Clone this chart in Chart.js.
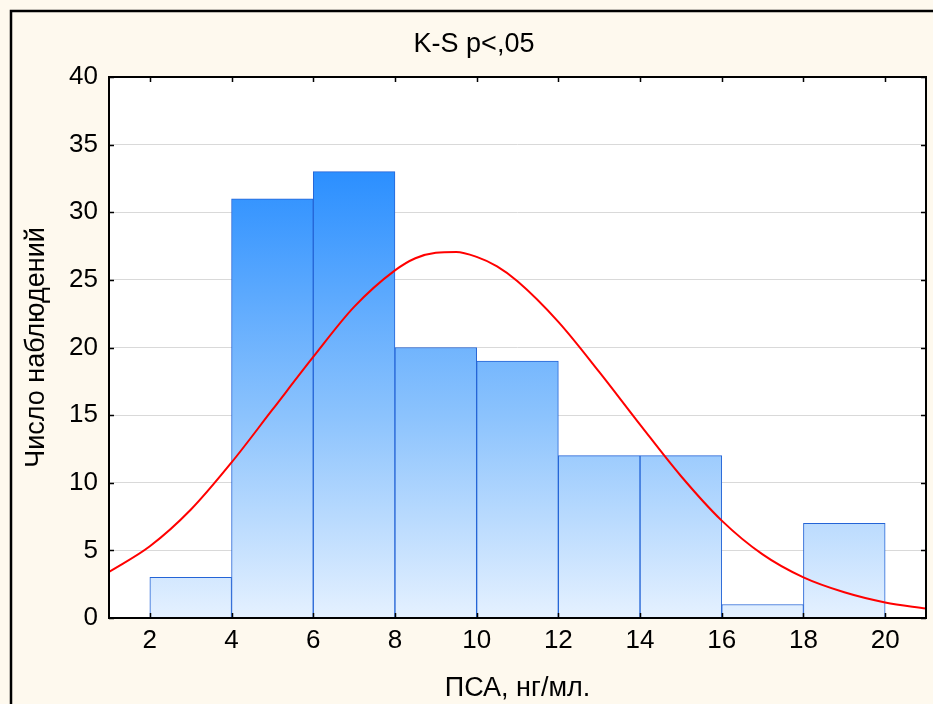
<!DOCTYPE html>
<html>
<head>
<meta charset="utf-8">
<script src="https://cdn.jsdelivr.net/npm/chart.js@4/dist/chart.umd.min.js"></script>
<style>
  html, body { margin: 0; padding: 0; background: #fef9ee; }
  #wrap { width: 933px; height: 704px; }
  canvas { display: block; }
</style>
</head>
<body>
<div id="wrap"><canvas id="chart" width="933" height="704"></canvas></div>
<script>
// Histogram bins (centre of each 2-unit bin) and observed counts
const binCenters = [3, 5, 7, 9, 11, 13, 15, 17, 19];
const binCounts  = [3, 31, 33, 20, 19, 12, 12, 1, 7];

// Expected-normal curve, sampled at whole units (half units around the crest)
const curveX = [1, 2, 3, 4, 5, 6, 7, 8, 8.5, 9, 9.5, 10, 10.5, 11, 12, 13, 14, 15, 16, 17, 18, 19, 20, 21];
const curveY = [3.4, 5.3, 8.0, 11.5, 15.4, 19.3, 23.0, 25.7, 26.6, 27.0, 27.06, 26.7, 26.0, 24.9, 21.9, 18.2, 14.3, 10.5, 7.2, 4.7, 3.0, 1.9, 1.15, 0.7];

// Axis ticks
const xTickValues = [2, 4, 6, 8, 10, 12, 14, 16, 18, 20];
const yTickValues = [0, 5, 10, 15, 20, 25, 30, 35, 40];

const chartTitle = 'K-S p<,05';
const xAxisTitle = 'ПСА, нг/мл.';
const yAxisTitle = 'Число наблюдений';

const FONT = '"Liberation Sans", Arial, sans-serif';
const TICK_SIZE = 26;
const TITLE_SIZE = 27;

// Background, outer frame, white plot area, and the text titles
const framePlugin = {
  id: 'frame',
  beforeDraw(chart) {
    const { ctx, chartArea: ca, width, height } = chart;
    ctx.save();
    ctx.fillStyle = '#fef9ee';
    ctx.fillRect(0, 0, width, height);
    ctx.strokeStyle = '#000';
    ctx.lineWidth = 2.5;
    ctx.strokeRect(11, 11, width + 40, height + 40);
    ctx.fillStyle = '#ffffff';
    ctx.fillRect(ca.left, ca.top, ca.right - ca.left, ca.bottom - ca.top);
    ctx.restore();
  },
  afterDatasetsDraw(chart) {
    const { ctx, chartArea: ca, scales } = chart;
    ctx.save();
    // plot border
    ctx.strokeStyle = '#000';
    ctx.lineWidth = 2;
    ctx.strokeRect(ca.left, ca.top, ca.right - ca.left, ca.bottom - ca.top);
    // inward tick marks on all four sides
    ctx.lineWidth = 1.5;
    ctx.beginPath();
    xTickValues.forEach(v => {
      const px = Math.round(scales.x.getPixelForValue(v)) + 0.5;
      ctx.moveTo(px, ca.top); ctx.lineTo(px, ca.top + 5);
      ctx.moveTo(px, ca.bottom); ctx.lineTo(px, ca.bottom - 5);
    });
    yTickValues.forEach(v => {
      const py = Math.round(scales.y.getPixelForValue(v)) + 0.5;
      ctx.moveTo(ca.left, py); ctx.lineTo(ca.left + 5, py);
      ctx.moveTo(ca.right, py); ctx.lineTo(ca.right - 5, py);
    });
    ctx.stroke();
    ctx.restore();
  },
  afterDraw(chart) {
    const { ctx, chartArea: ca } = chart;
    ctx.save();
    ctx.fillStyle = '#000';
    ctx.font = TITLE_SIZE + 'px ' + FONT;
    ctx.textAlign = 'center';
    ctx.textBaseline = 'middle';
    ctx.fillText(chartTitle, 474, 45);
    ctx.fillText(xAxisTitle, (ca.left + ca.right) / 2, 689);
    ctx.translate(37, (ca.top + ca.bottom) / 2);
    ctx.rotate(-Math.PI / 2);
    ctx.fillText(yAxisTitle, 0, 0);
    ctx.restore();
  }
};

function barFill(context) {
  const chart = context.chart;
  const ca = chart.chartArea;
  if (!ca) return '#7dbbfd';
  const y = chart.scales.y;
  const g = chart.ctx.createLinearGradient(0, y.getPixelForValue(33), 0, ca.bottom);
  g.addColorStop(0, '#2b8fff');
  g.addColorStop(0.55, '#8cc3fd');
  g.addColorStop(1, '#e5f1ff');
  return g;
}

new Chart(document.getElementById('chart'), {
  type: 'bar',
  data: {
    datasets: [
      {
        type: 'line',
        label: 'normal',
        data: curveX.map((x, i) => ({ x: x, y: curveY[i] })),
        borderColor: '#ff0000',
        borderWidth: 2,
        pointRadius: 0,
        cubicInterpolationMode: 'monotone',
        fill: false,
        order: 0
      },
      {
        type: 'bar',
        label: 'counts',
        data: binCenters.map((x, i) => ({ x: x, y: binCounts[i] })),
        backgroundColor: barFill,
        borderColor: '#2464d6',
        borderWidth: 1,
        borderSkipped: 'bottom',
        barPercentage: 1,
        categoryPercentage: 1,
        order: 1
      }
    ]
  },
  options: {
    responsive: false,
    animation: false,
    devicePixelRatio: 1,
    layout: { padding: { left: 0, top: 77, right: 7, bottom: 0 } },
    plugins: {
      legend: { display: false },
      title: { display: false },
      tooltip: { enabled: false }
    },
    scales: {
      x: {
        type: 'linear',
        min: 1,
        max: 21,
        offset: false,
        afterFit(s) { s.height = 86; },
        afterBuildTicks(s) { s.ticks = xTickValues.map(v => ({ value: v })); },
        grid: { display: false, drawTicks: false },
        border: { display: false },
        ticks: {
          padding: 7,
          color: '#000',
          font: { family: FONT, size: TICK_SIZE },
          maxRotation: 0,
          autoSkip: false
        }
      },
      y: {
        type: 'linear',
        min: 0,
        max: 40,
        afterFit(s) { s.width = 109; },
        afterBuildTicks(s) { s.ticks = yTickValues.map(v => ({ value: v })); },
        grid: { color: '#d9d9d9', lineWidth: 1, drawTicks: false },
        border: { display: false },
        ticks: {
          padding: 11,
          color: '#000',
          font: { family: FONT, size: TICK_SIZE }
        }
      }
    }
  },
  plugins: [framePlugin]
});
</script>
</body>
</html>
